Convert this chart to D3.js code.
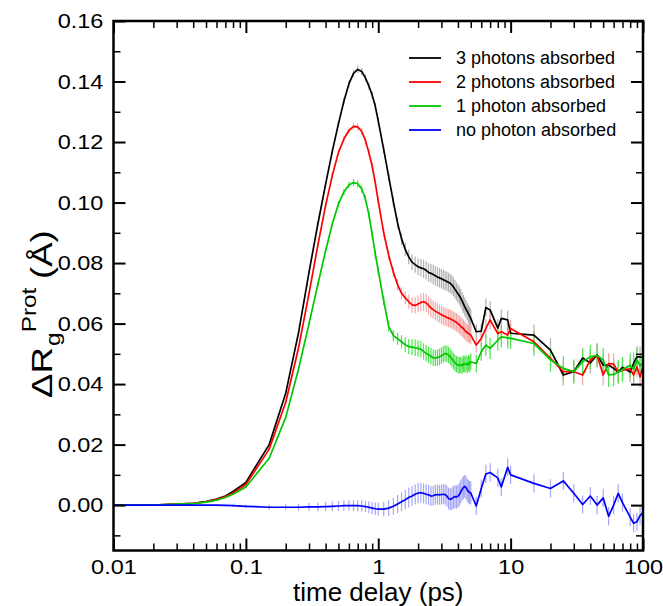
<!DOCTYPE html>
<html>
<head>
<meta charset="utf-8">
<script src="https://cdn.jsdelivr.net/npm/d3@7"></script>
<style>
  body { margin: 0; background: #fff; }
  svg { font-family: "Liberation Sans", Arial, sans-serif; }
</style>
</head>
<body>
<div id="chart"></div>
<script>
// time delays (ps)
var times = [0.01, 0.02, 0.03, 0.04, 0.05, 0.06, 0.07, 0.08, 0.1,
  0.15, 0.2, 0.25, 0.3, 0.35, 0.4, 0.45, 0.5, 0.55, 0.6, 0.65, 0.7, 0.75, 0.8, 0.85, 0.9, 0.95, 1.0,
  1.1, 1.2, 1.3, 1.4, 1.5, 1.6, 1.7, 1.8, 1.9, 2.0,
  2.1, 2.2, 2.3, 2.4, 2.5, 2.6, 2.7, 2.8, 2.9, 3.0,
  3.1, 3.2, 3.3, 3.4, 3.5, 3.6, 3.7, 3.8, 3.9, 4.0,
  4.1, 4.2, 4.3, 4.4, 4.5, 4.6, 4.7, 4.8, 4.9, 5.0,
  5.5, 6, 6.5, 7, 8, 8.5, 9.5, 10,
  15, 20, 25, 30, 35, 40, 45, 50, 55, 60, 65, 70,
  80, 85, 90, 95, 100]

var threePhotons = [0, 0, 0.0003, 0.0006, 0.0012, 0.002, 0.003, 0.0045, 0.0075,
  0.020, 0.037, 0.057, 0.077, 0.093, 0.106, 0.117, 0.126, 0.1335, 0.1392, 0.1427, 0.1440, 0.1433, 0.1412, 0.1385, 0.1355, 0.1318, 0.1270,
  0.1175, 0.1085, 0.1003, 0.0932, 0.0880, 0.0845, 0.0820, 0.0803, 0.0795, 0.0788,
  0.0784, 0.0781, 0.0776, 0.0769, 0.0766, 0.0762, 0.0758, 0.0754, 0.0751, 0.0748,
  0.0745, 0.0742, 0.0739, 0.0736, 0.0733, 0.0728, 0.0721, 0.0713, 0.0706, 0.0699,
  0.0692, 0.0684, 0.0674, 0.0665, 0.0656, 0.0648, 0.0640, 0.0632, 0.0625, 0.0617,
  0.0573, 0.0575, 0.0653, 0.0645, 0.0585, 0.0617, 0.0612, 0.0568,
  0.0562, 0.0512, 0.0430, 0.0441, 0.0486, 0.0470, 0.0496, 0.0463, 0.0463, 0.0452, 0.0440, 0.0455,
  0.0440, 0.0469, 0.0490, 0.0490, 0.0488]
var threeErr = [0, 0, 0, 0, 0, 0, 0, 0, 0.0002,
  0.0003, 0.0004, 0.0005, 0.0006, 0.0007, 0.0008, 0.0009, 0.001, 0.001, 0.0011, 0.0012, 0.0012, 0.0012, 0.0012, 0.0012, 0.0012, 0.0012, 0.0013,
  0.0014, 0.0015, 0.0017, 0.0019, 0.002, 0.0022, 0.0024, 0.0026, 0.0027, 0.0028,
  0.0029, 0.003, 0.003, 0.0031, 0.0031, 0.0032, 0.0032, 0.0032, 0.0032, 0.0032,
  0.0032, 0.0032, 0.0032, 0.0032, 0.0032, 0.0032, 0.0031, 0.0031, 0.003, 0.003,
  0.003, 0.003, 0.003, 0.003, 0.003, 0.003, 0.003, 0.003, 0.003, 0.003,
  0.0025, 0.0025, 0.003, 0.003, 0.003, 0.003, 0.003, 0.003,
  0.0035, 0.004, 0.0035, 0.0035, 0.0035, 0.0035, 0.0035, 0.0035, 0.0035, 0.0035, 0.0035, 0.0035,
  0.0035, 0.0035, 0.0035, 0.0035, 0.0035]

var twoPhotons = [0, 0, 0.0003, 0.0006, 0.0011, 0.0018, 0.0028, 0.004, 0.0068,
  0.0185, 0.034, 0.052, 0.070, 0.086, 0.099, 0.109, 0.1165, 0.1210, 0.1238, 0.1252, 0.1250, 0.1235, 0.1205, 0.1165, 0.1120, 0.1065, 0.1005,
  0.0900, 0.0825, 0.0770, 0.0728, 0.0700, 0.0685, 0.0672, 0.0662, 0.0660, 0.0665,
  0.0670, 0.0672, 0.0668, 0.0660, 0.0652, 0.0646, 0.0641, 0.0637, 0.0633, 0.0629,
  0.0626, 0.0623, 0.0620, 0.0618, 0.0616, 0.0613, 0.0610, 0.0607, 0.0604, 0.0600,
  0.0596, 0.0591, 0.0587, 0.0583, 0.0578, 0.0573, 0.0570, 0.0567, 0.0565, 0.0562,
  0.0529, 0.0551, 0.0584, 0.0612, 0.0567, 0.0573, 0.0562, 0.0584,
  0.0540, 0.0485, 0.0441, 0.0441, 0.0430, 0.0480, 0.0496, 0.0430, 0.0468, 0.0466, 0.0440, 0.0446,
  0.0450, 0.0430, 0.0457, 0.0424, 0.0460]
var twoErr = [0, 0, 0, 0, 0, 0, 0, 0, 0.0002,
  0.0003, 0.0004, 0.0005, 0.0006, 0.0007, 0.0008, 0.0009, 0.001, 0.001, 0.0011, 0.0012, 0.0012, 0.0012, 0.0012, 0.0012, 0.0012, 0.0012, 0.0013,
  0.0014, 0.0015, 0.0017, 0.0019, 0.002, 0.0022, 0.0024, 0.0026, 0.0027, 0.0028,
  0.0029, 0.003, 0.003, 0.003, 0.003, 0.003, 0.003, 0.003, 0.003, 0.003,
  0.003, 0.003, 0.003, 0.003, 0.003, 0.003, 0.003, 0.003, 0.003, 0.003,
  0.003, 0.003, 0.003, 0.003, 0.003, 0.003, 0.003, 0.003, 0.003, 0.003,
  0.0025, 0.0025, 0.003, 0.003, 0.003, 0.003, 0.003, 0.003,
  0.0035, 0.0035, 0.0035, 0.0035, 0.0035, 0.0035, 0.0035, 0.0035, 0.0035, 0.0035, 0.0035, 0.0035,
  0.0035, 0.0035, 0.0035, 0.0035, 0.0035]

var onePhoton = [0, 0, 0.0003, 0.0005, 0.001, 0.0016, 0.0025, 0.0036, 0.006,
  0.0155, 0.029, 0.045, 0.060, 0.073, 0.084, 0.093, 0.0995, 0.1035, 0.1058, 0.1066, 0.1062, 0.1045, 0.1012, 0.0960, 0.0895, 0.0830, 0.0775,
  0.0675, 0.0590, 0.0560, 0.0550, 0.0540, 0.0530, 0.0524, 0.0522, 0.0520, 0.0518,
  0.0515, 0.0508, 0.0502, 0.0497, 0.0492, 0.0487, 0.0486, 0.0488, 0.0490, 0.0494,
  0.0498, 0.0501, 0.0500, 0.0496, 0.0490, 0.0483, 0.0476, 0.0470, 0.0466, 0.0463,
  0.0462, 0.0464, 0.0460, 0.0467, 0.0465, 0.0468, 0.0463, 0.0470, 0.0466, 0.0474,
  0.0468, 0.0507, 0.0529, 0.0518, 0.0545, 0.0556, 0.0553, 0.0551,
  0.0534, 0.0480, 0.0452, 0.0441, 0.0474, 0.0490, 0.0495, 0.0480, 0.0430, 0.0432, 0.0440, 0.0448,
  0.0462, 0.0448, 0.0480, 0.0460, 0.0470]
var oneErr = [0, 0, 0, 0, 0, 0, 0, 0, 0.0002,
  0.0003, 0.0004, 0.0005, 0.0006, 0.0007, 0.0008, 0.0009, 0.001, 0.001, 0.0011, 0.0012, 0.0012, 0.0012, 0.0012, 0.0012, 0.0012, 0.0013, 0.0014,
  0.0015, 0.0017, 0.0019, 0.002, 0.0022, 0.0024, 0.0025, 0.0026, 0.0027, 0.0027,
  0.0027, 0.0027, 0.0027, 0.0027, 0.0027, 0.0027, 0.0027, 0.0027, 0.0027, 0.0027,
  0.0027, 0.0027, 0.0027, 0.0027, 0.0027, 0.0027, 0.0027, 0.0027, 0.0027, 0.0027,
  0.0027, 0.0027, 0.0027, 0.0027, 0.0027, 0.0027, 0.0027, 0.0027, 0.0027, 0.0027,
  0.003, 0.003, 0.0035, 0.0035, 0.0035, 0.0035, 0.0035, 0.0035,
  0.004, 0.004, 0.004, 0.004, 0.004, 0.004, 0.004, 0.004, 0.004, 0.004, 0.004, 0.004,
  0.004, 0.004, 0.004, 0.004, 0.004]

var noPhoton = [0, 0, 0, 0, 0, 0, -0.0001, -0.0002, -0.0004,
  -0.0007, -0.0007, -0.0007, -0.0006, -0.0006, -0.0005, -0.0004, -0.0003, -0.0002, -0.0002, -0.0002, -0.0002, -0.0003, -0.0005, -0.0007, -0.0010, -0.0012, -0.0013,
  -0.0013, -0.0010, -0.0004, 0.0004, 0.0011, 0.0018, 0.0025, 0.0030, 0.0036, 0.0040,
  0.0041, 0.0039, 0.0036, 0.0034, 0.0030, 0.0031, 0.0034, 0.0035, 0.0034, 0.0035,
  0.0036, 0.0035, 0.0030, 0.0022, 0.0019, 0.0021, 0.0026, 0.0028, 0.0027, 0.0029,
  0.0035, 0.0044, 0.0052, 0.0058, 0.0062, 0.0058, 0.0050, 0.0045, 0.0042, 0.0040,
  -0.0003, 0.0055, 0.0103, 0.0108, 0.0090, 0.0060, 0.0125, 0.0100,
  0.0072, 0.0055, 0.0080, 0.0039, 0.0002, 0.0030, 0.0000, 0.0024, -0.0037, 0.0000, 0.0039, 0.0008,
  -0.0040, -0.0060, -0.0055, -0.0035, -0.0025]
var noErr = [0.0002, 0.0002, 0.0002, 0.0002, 0.0002, 0.0002, 0.0003, 0.0004, 0.0005,
  0.0008, 0.001, 0.0012, 0.0013, 0.0014, 0.0015, 0.0016, 0.0016, 0.0017, 0.0017, 0.0018, 0.0018, 0.0018, 0.0019, 0.002, 0.002, 0.0021, 0.0022,
  0.0024, 0.0026, 0.0028, 0.003, 0.0031, 0.0032, 0.0033, 0.0033, 0.0033, 0.0033,
  0.0033, 0.0033, 0.0033, 0.0033, 0.0033, 0.0033, 0.0033, 0.0033, 0.0033, 0.0033,
  0.0033, 0.0034, 0.0035, 0.0036, 0.0036, 0.0037, 0.0038, 0.0038, 0.0038, 0.0038,
  0.0038, 0.0038, 0.0038, 0.0038, 0.0038, 0.0038, 0.0038, 0.0038, 0.0038, 0.0038,
  0.003, 0.003, 0.003, 0.003, 0.003, 0.003, 0.003, 0.003,
  0.003, 0.003, 0.003, 0.003, 0.003, 0.003, 0.003, 0.003, 0.003, 0.003, 0.003, 0.003,
  0.003, 0.003, 0.003, 0.003, 0.003]

var seriesNames = ["3 photons absorbed", "2 photons absorbed", "1 photon absorbed", "no photon absorbed"]
var seriesColors = ["#000000", "#ff0000", "#00c800", "#0000ff"]
var errColors = ["#b0b0b0", "#f7a8a8", "#4ee44e", "#a6a6f6"]

var xMajor = [0.01, 0.1, 1, 10, 100]
var xMajorLabels = ["0.01", "0.1", "1", "10", "100"]
var yMajor = [0, 0.02, 0.04, 0.06, 0.08, 0.1, 0.12, 0.14, 0.16]
var yMajorLabels = ["0.00", "0.02", "0.04", "0.06", "0.08", "0.10", "0.12", "0.14", "0.16"]
var yMinor = [-0.01, 0.01, 0.03, 0.05, 0.07, 0.09, 0.11, 0.13, 0.15]

var width = 663, height = 606
var padL = 113.5, padR = 643, padT = 21, padB = 550.5

var svg = d3.select("#chart").append("svg")
  .attr("width", width)
  .attr("height", height)

var x = d3.scaleLog().domain([0.01, 100]).range([padL, padR])
var y = d3.scaleLinear().domain([-0.015, 0.16]).range([padB, padT])

// minor x ticks: 2..9 in each decade
var xMinor = []
xMajor.slice(0, 4).forEach(function(d) {
  for (var k = 2; k <= 9; k++) xMinor.push(d * k)
})

var allY = [threePhotons, twoPhotons, onePhoton, noPhoton]
var allErr = [threeErr, twoErr, oneErr, noErr]

var plot = svg.append("g")

// error bars first, all series
allY.forEach(function(vals, s) {
  plot.append("g").selectAll("line")
    .data(times)
    .enter().append("line")
      .attr("x1", function(d) { return x(d) })
      .attr("x2", function(d) { return x(d) })
      .attr("y1", function(d, i) { return y(vals[i] - allErr[s][i]) })
      .attr("y2", function(d, i) { return y(vals[i] + allErr[s][i]) })
      .attr("stroke", errColors[s])
      .attr("stroke-width", 1.2)
})

var line = d3.line()
  .x(function(d) { return x(d[0]) })
  .y(function(d) { return y(d[1]) })

allY.forEach(function(vals, s) {
  plot.append("path")
    .datum(times.map(function(t, i) { return [t, vals[i]] }))
    .attr("d", line)
    .attr("fill", "none")
    .attr("stroke", seriesColors[s])
    .attr("stroke-width", 1.7)
    .attr("stroke-linejoin", "round")
})

// axes with inward ticks on all four sides
function styleAxis(g, w) {
  g.select(".domain").remove()
  g.selectAll(".tick line").attr("stroke", "#000").attr("stroke-width", w)
  g.selectAll("text").attr("fill", "#000").style("font-size", "21px")
    .attr("transform", "scale(1.12,1)")
}

svg.append("g").attr("transform", "translate(0," + padB + ")")
  .call(d3.axisBottom(x).tickValues(xMajor).tickSize(-12).tickPadding(9)
    .tickFormat(function(d, i) { return xMajorLabels[i] }))
  .call(styleAxis, 2)
svg.append("g").attr("transform", "translate(0," + padB + ")")
  .call(d3.axisBottom(x).tickValues(xMinor).tickSize(-7).tickFormat(""))
  .call(styleAxis, 1.5)
svg.append("g").attr("transform", "translate(0," + padT + ")")
  .call(d3.axisTop(x).tickValues(xMajor).tickSize(-12).tickFormat(""))
  .call(styleAxis, 2)
svg.append("g").attr("transform", "translate(0," + padT + ")")
  .call(d3.axisTop(x).tickValues(xMinor).tickSize(-7).tickFormat(""))
  .call(styleAxis, 1.5)

svg.append("g").attr("transform", "translate(" + padL + ",0)")
  .call(d3.axisLeft(y).tickValues(yMajor).tickSize(-12).tickPadding(9)
    .tickFormat(function(d, i) { return yMajorLabels[i] }))
  .call(styleAxis, 2)
svg.append("g").attr("transform", "translate(" + padL + ",0)")
  .call(d3.axisLeft(y).tickValues(yMinor).tickSize(-7).tickFormat(""))
  .call(styleAxis, 1.5)
svg.append("g").attr("transform", "translate(" + padR + ",0)")
  .call(d3.axisRight(y).tickValues(yMajor).tickSize(-12).tickFormat(""))
  .call(styleAxis, 2)
svg.append("g").attr("transform", "translate(" + padR + ",0)")
  .call(d3.axisRight(y).tickValues(yMinor).tickSize(-7).tickFormat(""))
  .call(styleAxis, 1.5)

// frame
svg.append("rect")
  .attr("x", padL).attr("y", padT)
  .attr("width", padR - padL).attr("height", padB - padT)
  .attr("fill", "none").attr("stroke", "#000").attr("stroke-width", 2.5)

// axis titles
svg.append("text")
  .attr("x", (padL + padR) / 2)
  .attr("y", 601)
  .attr("text-anchor", "middle")
  .style("font-size", "26px")
  .text("time delay (ps)")

var yTitle = svg.append("text")
  .attr("transform", "translate(52,398) rotate(-90) scale(1.22,1)")
  .attr("text-anchor", "start")
  .style("font-size", "30px")
yTitle.append("tspan").text("\u0394R")
yTitle.append("tspan").attr("dy", 8).attr("dx", 1).style("font-size", "20px").text("g")
yTitle.append("tspan").attr("dy", -24).style("font-size", "20px").text("Prot")
yTitle.append("tspan").attr("dy", 16).attr("dx", 7).text("(\u00c5)")

// legend
var legendY = [58, 82, 106, 130]
var legend = svg.append("g")
seriesNames.forEach(function(name, i) {
  legend.append("line")
    .attr("x1", 409).attr("x2", 441)
    .attr("y1", legendY[i]).attr("y2", legendY[i])
    .attr("stroke", seriesColors[i]).attr("stroke-width", 1.8)
  legend.append("text")
    .attr("x", 456).attr("y", legendY[i])
    .attr("dy", "0.36em")
    .style("font-size", "18px")
    .text(name)
})
</script>
</body>
</html>
